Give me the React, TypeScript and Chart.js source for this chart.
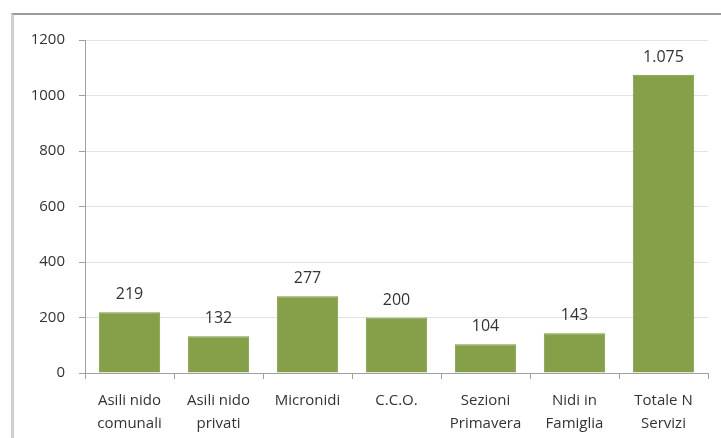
import React, { useEffect, useRef } from "react";
import { Chart, registerables } from "chart.js";

Chart.register(...registerables);

const categories: string[][] = [
  ["Asili nido", "comunali"],
  ["Asili nido", "privati"],
  ["Micronidi"],
  ["C.C.O."],
  ["Sezioni", "Primavera"],
  ["Nidi in", "Famiglia"],
  ["Totale N", "Servizi"],
];
const values: number[] = [219, 132, 277, 200, 104, 143, 1075];
const yTicks: number[] = [0, 200, 400, 600, 800, 1000, 1200];

const FONT = "'Open Sans', sans-serif";
const TEXT = "#333333";

const valueLabels = {
  id: "valueLabels",
  afterDatasetsDraw(chart: any) {
    const { ctx } = chart;
    const meta = chart.getDatasetMeta(0);
    ctx.save();
    ctx.font = `16px ${FONT}`;
    ctx.fillStyle = TEXT;
    ctx.textAlign = "center";
    ctx.textBaseline = "alphabetic";
    meta.data.forEach((bar: any, i: number) => {
      const txt = values[i].toLocaleString("it-IT");
      ctx.fillText(txt, bar.x, bar.y - 13);
    });
    ctx.restore();
  },
};

export default function App() {
  const ref = useRef<HTMLCanvasElement>(null);
  useEffect(() => {
    if (!ref.current) return;
    const chart = new Chart(ref.current, {
      type: "bar",
      data: {
        labels: categories,
        datasets: [
          {
            data: values,
            backgroundColor: "#86a04a",
            borderColor: "#7d9744",
            borderWidth: 1,
            barPercentage: 0.69,
            categoryPercentage: 1,
          },
        ],
      },
      options: {
        animation: false,
        responsive: false,
        maintainAspectRatio: false,
        layout: { padding: { left: 0, right: 13, top: 40, bottom: 0 } },
        plugins: { legend: { display: false }, tooltip: { enabled: false } },
        scales: {
          x: {
            grid: {
              offset: true,
              drawOnChartArea: false,
              drawTicks: true,
              tickLength: 6,
              tickColor: "#a0a0a0",
            },
            border: { color: "#a0a0a0", width: 1 },
            ticks: {
              color: TEXT,
              font: { family: FONT, size: 15, lineHeight: 1.55 },
              padding: 10,
              maxRotation: 0,
              autoSkip: false,
            },
            afterFit: (s: any) => {
              s.height = 65;
            },
          },
          y: {
            min: 0,
            max: 1200,
            afterBuildTicks: (s: any) => {
              s.ticks = yTicks.map((v) => ({ value: v }));
            },
            grid: {
              color: "#e2e2e2",
              tickColor: "#a0a0a0",
              tickLength: 6,
            },
            border: { color: "#a0a0a0", width: 1 },
            ticks: {
              color: TEXT,
              font: { family: FONT, size: 15 },
              padding: 14,
              callback: (v: any) => String(v),
            },
            afterFit: (s: any) => {
              s.width = 85;
            },
          },
        },
      },
      plugins: [valueLabels],
    });
    return () => chart.destroy();
  }, []);

  return (
    <div style={{ position: "absolute", left: 0, top: 0, width: 721, height: 438, overflow: "hidden", background: "#fff" }}>
      <div
        style={{
          position: "absolute",
          left: 11,
          top: 13,
          width: 800,
          height: 600,
          borderLeft: "3px solid #cfcfcf",
          borderTop: "2px solid #9a9a9a",
        }}
      />
      <canvas ref={ref} width={721} height={438} style={{ position: "absolute", left: 0, top: 0 }} />
    </div>
  );
}
